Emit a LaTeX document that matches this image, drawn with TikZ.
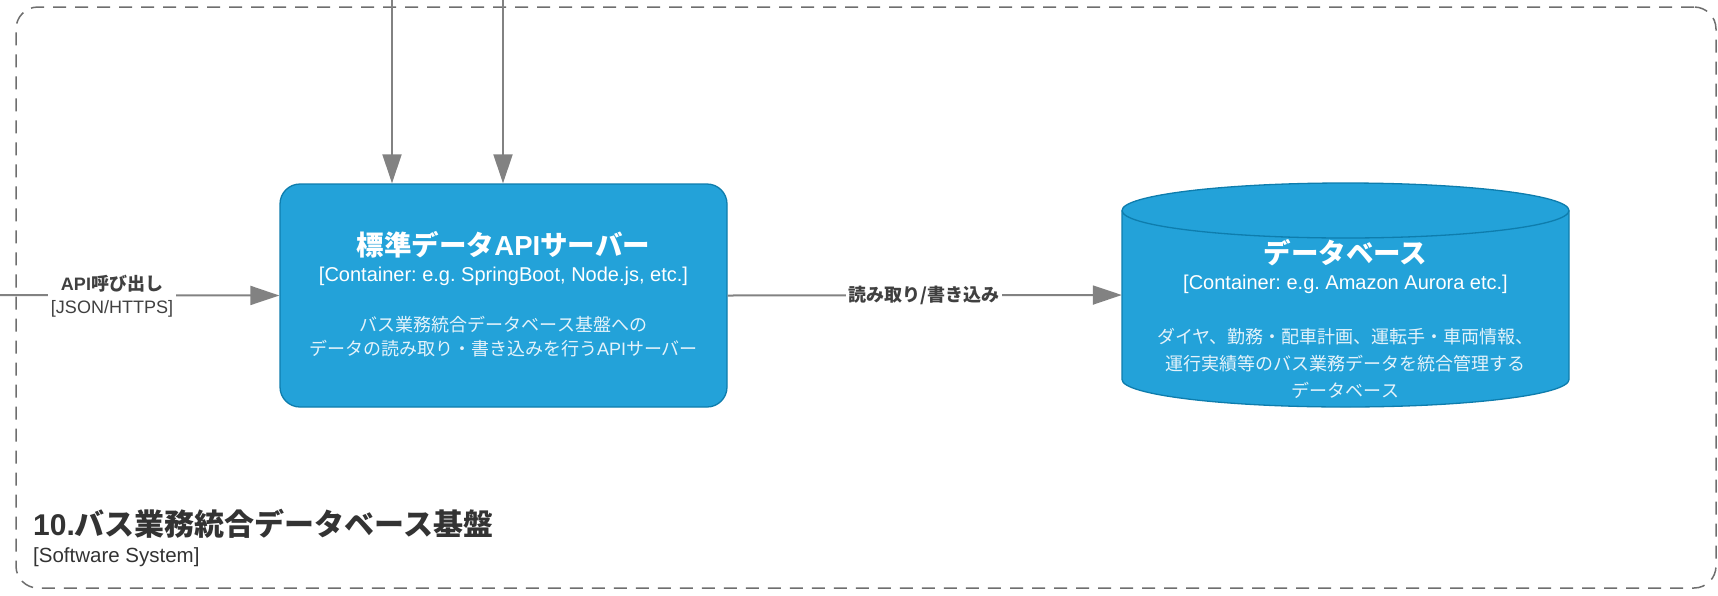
\documentclass[tikz,border=0pt]{standalone}
\usepackage{fontspec}
\setmainfont{Liberation Sans}
\newfontfamily\jp{Noto Sans CJK JP}
\usetikzlibrary{arrows.meta}
\definecolor{boxfill}{HTML}{23A2D9}
\definecolor{boxline}{HTML}{0E7DAD}
\definecolor{relline}{HTML}{828282}
\definecolor{reltext}{HTML}{404040}
\definecolor{bndline}{HTML}{6E6E6E}
\definecolor{bndtext}{HTML}{333333}
\definecolor{desctext}{HTML}{E4F3FB}
\newcommand{\fsz}[1]{\fontsize{#1}{#1}\selectfont}
\frenchspacing
\begin{document}
\frenchspacing
\begin{tikzpicture}[x=1pt,y=-1pt,
  container/.style={draw=boxline, fill=boxfill, line width=1.3pt, rounded corners=20pt,
    minimum width=447pt, minimum height=223pt, inner sep=0pt},
  dbbody/.style={draw=boxline, fill=boxfill, line width=1.3pt},
  rel/.style={draw=relline, line width=2pt, -{Triangle[length=29pt,width=19pt]}},
  rellabel/.style={fill=white, text=reltext, inner xsep=3pt, inner ysep=1pt, align=center},
  boundary/.style={draw=bndline, line width=1.5pt, dash pattern=on 13pt off 9pt, rounded corners=22pt,
    minimum width=1700pt, minimum height=581pt, inner sep=0pt},
  ttl/.style={text=white, inner sep=0pt, font=\fsz{27.5}\bfseries},
  tech/.style={text=white, inner sep=0pt, font=\fsz{20}},
  desc/.style={text=desctext, inner sep=0pt, font=\fsz{18}},
]
\useasboundingbox (0,0) rectangle (1718,595);

% system boundary
\node[boundary] (bnd) at (866,297.5) {};
\node[anchor=west, inner sep=0pt, text=bndtext, font=\fsz{30}\bfseries] (bndTitle) at (33,524)
  {10.{\jp\bfseries バス業務統合データベース基盤}};
\node[anchor=west, inner sep=0pt, text=bndtext, font=\fsz{20.5}] (bndSub) at (33,557) {[Software System]};

% API server container
\node[container] (api) at (503.5,295.5) {};
\node[ttl] (apiTitle) at (503.5,245) {{\jp\bfseries 標準データ}API{\jp\bfseries サーバー}};
\node[tech] (apiTech) at (503.5,276) {[Container: e.g. SpringBoot, Node.js, etc.]};
\node[desc] (apiDesc1) at (503.5,325) {\jp バス業務統合データベース基盤への};
\node[desc] (apiDesc2) at (503.5,349) {{\jp データの読み取り・書き込みを行う}API{\jp サーバー}};

% database cylinder
\path[dbbody] (1122,210.5) -- (1122,379.5)
  arc[start angle=180, end angle=0, x radius=223.5, y radius=27.5]
  -- (1569,210.5)
  arc[start angle=0, end angle=-180, x radius=223.5, y radius=27.5] -- cycle;
\draw[boxline, line width=1.3pt] (1122,210.5) arc[start angle=180, end angle=0, x radius=223.5, y radius=27.5];
\node[minimum width=447pt, minimum height=224pt, inner sep=0pt] (db) at (1345.5,295) {};
\node[ttl] (dbTitle) at (1345.5,253) {\jp\bfseries データベース};
\node[tech] (dbTech) at (1345.5,284) {[Container: e.g. Amazon Aurora etc.]};
\node[desc] (dbDesc1) at (1345.5,337) {\jp ダイヤ、勤務・配車計画、運転手・車両情報、};
\node[desc] (dbDesc2) at (1345.5,364) {\jp 運行実績等のバス業務データを統合管理する};
\node[desc] (dbDesc3) at (1345.5,390) {\jp データベース};

% connectors
\coordinate (inLeft) at (0,295);
\coordinate (inTop1) at (392,0);
\coordinate (inTop2) at (503,0);
\draw[rel] (inLeft) -- (api.west);
\draw[rel] (inTop1) -- (inTop1 |- api.north);
\draw[rel] (inTop2) -- (inTop2 |- api.north);
\draw[rel] (api.east) -- (db.west);

\node[rellabel, font=\fontsize{18}{23}\selectfont] (lblLeft) at (112,296)
  {\bfseries API{\jp\bfseries 呼び出し}\\ {[JSON/HTTPS]}};
\node[rellabel, inner ysep=0pt] (lblMid) at (924,295) {\fsz{18}\jp\bfseries 読み取り/書き込み};
\end{tikzpicture}
\end{document}
